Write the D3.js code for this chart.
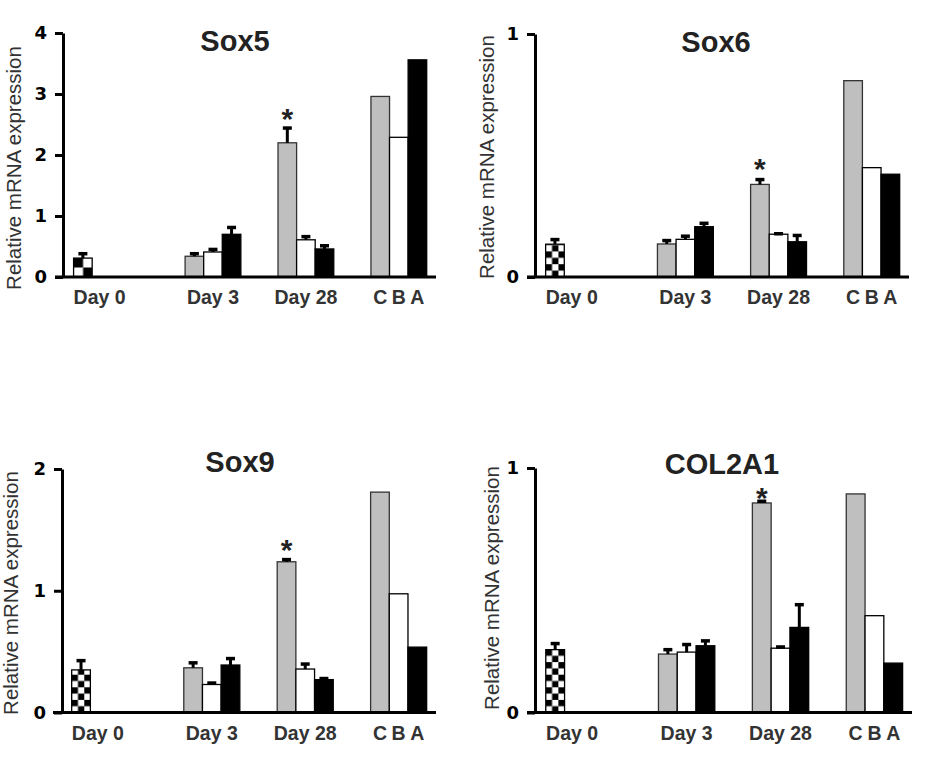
<!DOCTYPE html>
<html><head><meta charset="utf-8">
<script src="https://cdn.jsdelivr.net/npm/d3@7"></script>
<style>body{margin:0;background:#fff} svg{display:block}</style>
</head><body><svg id="c" width="930" height="771"></svg>
<script>
// ---------- data ----------
const genes = ["Sox5", "Sox6", "Sox9", "COL2A1"];
const dayLabels = ["Day 0", "Day 3", "Day 28"];
const cbaLabels = ["C", "B", "A"];
// bar order: Day0, Day3 (C,B,A), Day28 (C,B,A), reference C,B,A
const barGroup = [0, 1, 1, 1, 2, 2, 2, 3, 3, 3];
const barFill = ["checker", "gray", "white", "black", "gray", "white", "black", "gray", "white", "black"];
const significant = [0, 0, 0, 0, 1, 0, 0, 0, 0, 0];

const sox5Mean = [0.31, 0.34, 0.41, 0.70, 2.20, 0.61, 0.46, 2.96, 2.29, 3.56];
const sox5Err  = [0.08, 0.05, 0.05, 0.12, 0.25, 0.06, 0.06, 0, 0, 0];
const sox6Mean = [0.135, 0.136, 0.155, 0.207, 0.381, 0.176, 0.145, 0.808, 0.450, 0.423];
const sox6Err  = [0.021, 0.016, 0.015, 0.016, 0.022, 0.004, 0.028, 0, 0, 0];
const sox9Mean = [0.35, 0.367, 0.23, 0.39, 1.238, 0.357, 0.27, 1.81, 0.975, 0.537];
const sox9Err  = [0.08, 0.045, 0.016, 0.057, 0.022, 0.045, 0.013, 0, 0, 0];
const col2a1Mean = [0.257, 0.239, 0.247, 0.273, 0.857, 0.263, 0.348, 0.894, 0.396, 0.202];
const col2a1Err  = [0.027, 0.020, 0.033, 0.022, 0.009, 0.007, 0.095, 0, 0, 0];

const sox5Ticks = [0, 1, 2, 3, 4];
const sox6Ticks = [0, 1];
const sox9Ticks = [0, 1, 2];
const col2a1Ticks = [0, 1];

const yTitle = "Relative mRNA expression";

// ---------- layout ----------
const panels = [
  {gene: genes[0], mean: sox5Mean, err: sox5Err, ticks: sox5Ticks, starGap: 16,
   ax: 63, y0: 277, yTop: 33, xL: 55, xR: 436, tx: 235, ty: 51, lx: 21, ly: 168, sq: 9.5},
  {gene: genes[1], mean: sox6Mean, err: sox6Err, ticks: sox6Ticks, starGap: 17,
   ax: 535, y0: 277, yTop: 34, xL: 527, xR: 909, tx: 716, ty: 52, lx: 494, ly: 157, sq: 6.4},
  {gene: genes[2], mean: sox9Mean, err: sox9Err, ticks: sox9Ticks, starGap: 16,
   ax: 62, y0: 712.5, yTop: 469, xL: 53, xR: 436, tx: 240, ty: 472, lx: 18, ly: 593, sq: 6.3},
  {gene: genes[3], mean: col2a1Mean, err: col2a1Err, ticks: col2a1Ticks, starGap: 10,
   ax: 535, y0: 712.5, yTop: 468, xL: 527, xR: 912, tx: 722, ty: 474, lx: 499, ly: 588, sq: 6.3}
];
const groupStart = [0, 6, 11, 16];
const dayLabelSlot = [1.4, 7.5, 12.5];
const fills = {gray: "#bfbfbf", white: "#ffffff", black: "#000000"};
const strokes = {gray: "#333333", white: "#000000", black: "#000000", checker: "#000000"};
const sans = "Liberation Sans, Arial, sans-serif";

const svg = d3.select("#c");
const defs = svg.append("defs");

panels.forEach((p, pi) => {
  const g = svg.append("g");
  const x = d3.scaleLinear().domain([-1, 19.5]).range([p.xL, p.xR]);
  const y = d3.scaleLinear().domain([0, d3.max(p.ticks)]).range([p.y0, p.yTop]);

  const slots = barGroup.map((gr, i) => groupStart[gr] + (i - barGroup.indexOf(gr)));

  // checker pattern anchored at Day 0 bar
  const pid = "chk" + pi;
  const pat = defs.append("pattern").attr("id", pid).attr("patternUnits", "userSpaceOnUse")
    .attr("x", x(slots[0])).attr("y", p.y0).attr("width", 2 * p.sq).attr("height", 2 * p.sq);
  pat.append("rect").attr("width", 2 * p.sq).attr("height", 2 * p.sq).attr("fill", "#fff");
  pat.append("rect").attr("x", 0).attr("y", 0).attr("width", p.sq).attr("height", p.sq).attr("fill", "#000");
  pat.append("rect").attr("x", p.sq).attr("y", p.sq).attr("width", p.sq).attr("height", p.sq).attr("fill", "#000");

  // bars
  g.selectAll("rect.bar").data(p.mean).join("rect").attr("class", "bar")
    .attr("x", (d, i) => x(slots[i]))
    .attr("width", (d, i) => x(slots[i] + 1) - x(slots[i]))
    .attr("y", d => y(d))
    .attr("height", d => p.y0 - y(d))
    .attr("fill", (d, i) => barFill[i] === "checker" ? `url(#${pid})` : fills[barFill[i]])
    .attr("stroke", (d, i) => strokes[barFill[i]])
    .attr("stroke-width", 1.3);

  // error bars (upper only)
  p.mean.forEach((m, i) => {
    const e = p.err[i];
    if (!e) return;
    const cx = (x(slots[i]) + x(slots[i] + 1)) / 2;
    g.append("line").attr("x1", cx).attr("x2", cx).attr("y1", y(m)).attr("y2", y(m + e))
      .attr("stroke", "#000").attr("stroke-width", 3);
    g.append("line").attr("x1", cx - 4.5).attr("x2", cx + 4.5).attr("y1", y(m + e) + 0.5).attr("y2", y(m + e) + 0.5)
      .attr("stroke", "#000").attr("stroke-width", 3.5);
    if (significant[i]) {
      g.append("text").attr("x", cx).attr("y", y(m + e) - p.starGap + 17)
        .attr("text-anchor", "middle").attr("font-family", sans)
        .attr("font-weight", "bold").attr("font-size", 30).attr("fill", "#222").text("*");
    }
  });

  // x axis line
  g.append("line").attr("x1", x.range()[0]).attr("x2", x.range()[1])
    .attr("y1", p.y0).attr("y2", p.y0).attr("stroke", "#000").attr("stroke-width", 3);

  // y axis
  const yAxis = d3.axisLeft(y).tickValues(p.ticks).tickSize(8).tickSizeOuter(0).tickPadding(8)
    .tickFormat(d3.format("d"));
  const ag = g.append("g").attr("transform", `translate(${p.ax},0)`).call(yAxis);
  ag.select(".domain").attr("stroke", "#000").attr("stroke-width", 3);
  ag.selectAll(".tick line").attr("stroke", "#000").attr("stroke-width", 3);
  ag.selectAll(".tick text").attr("fill", "#000").attr("font-family", "DejaVu Sans, Verdana, sans-serif")
    .attr("font-weight", "bold").attr("font-size", 18);

  // category labels
  dayLabels.forEach((lab, k) => {
    g.append("text").attr("x", x(dayLabelSlot[k])).attr("y", p.y0 + 27)
      .attr("text-anchor", "middle").attr("font-family", sans)
      .attr("font-weight", "bold").attr("font-size", 19.5).attr("fill", "#333").text(lab);
  });
  cbaLabels.forEach((lab, k) => {
    g.append("text").attr("x", x(groupStart[3] + k + 0.5)).attr("y", p.y0 + 27)
      .attr("text-anchor", "middle").attr("font-family", sans)
      .attr("font-weight", "bold").attr("font-size", 19.5).attr("fill", "#333").text(lab);
  });

  // title
  g.append("text").attr("x", p.tx).attr("y", p.ty).attr("text-anchor", "middle")
    .attr("font-family", sans).attr("font-weight", "bold")
    .attr("font-size", 29).attr("fill", "#222").text(p.gene);

  // y title
  g.append("text").attr("transform", `translate(${p.lx},${p.ly}) rotate(-90)`)
    .attr("text-anchor", "middle").attr("font-family", sans)
    .attr("font-size", 20.5).attr("fill", "#333").text(yTitle);
});
</script></body></html>
